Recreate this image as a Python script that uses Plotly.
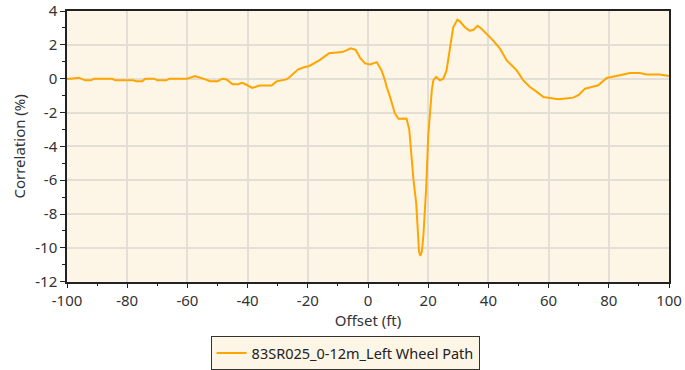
import plotly.graph_objects as go

offset_ft = [-100, -99, -96, -94, -92, -91, -85, -84, -78, -77, -75, -74, -71, -70, -67, -66, -60,
             -57.5, -54.7, -52.5, -50, -48.3, -47, -45, -43, -42, -41, -38.5, -36, -32, -30.4,
             -27.1, -26, -23.2, -21, -19.5, -16.2, -12.9, -8.5, -5.7, -4.1, -2.5, -1.0, 0.7, 2.9,
             4.5, 5.6, 6.2, 7.3, 8.4, 8.9, 10.1, 12.8, 13.7, 14.5, 15.1, 16.0, 16.5, 16.95, 17.4,
             17.9, 18.4, 18.9, 19.3, 19.7, 20.0, 20.6, 21.2, 21.7, 22.6, 23.9, 25.0, 26.1, 27.2,
             28.3, 29.7, 30.5, 32.2, 33.7, 35.0, 36.4, 37.8, 39.4, 41.6, 43.9, 46.1, 48.3, 49.4,
             51.6, 53.8, 56.1, 58.3, 60.5, 63.2, 64.9, 68.2, 69.9, 72.1, 74.3, 76.5, 79.3, 81.5,
             83.7, 87.0, 90.3, 92.5, 96.9, 100]
correlation_pct = [0.0, 0.0, 0.06, -0.1, -0.1, 0.0, 0.0, -0.1, -0.1, -0.15, -0.15, 0.0, 0.0, -0.1,
                   -0.1, 0.0, 0.0, 0.16, 0.0, -0.15, -0.15, 0.0, -0.05, -0.33, -0.33, -0.24, -0.3,
                   -0.55, -0.41, -0.41, -0.16, -0.04, 0.1, 0.55, 0.69, 0.75, 1.08, 1.51, 1.57, 1.8,
                   1.7, 1.2, 0.9, 0.84, 0.98, 0.49, -0.08, -0.49, -1.06, -1.67, -2.04, -2.37, -2.35,
                   -3.0, -4.78, -5.96, -7.33, -8.7, -10.2, -10.47, -10.2, -9.3, -8.1, -6.55, -4.78,
                   -3.4, -2.04, -0.67, -0.1, 0.1, -0.1, 0.0, 0.49, 1.86, 3.04, 3.49, 3.39, 3.04,
                   2.84, 2.88, 3.12, 2.94, 2.65, 2.25, 1.76, 1.08, 0.69, 0.49, -0.1, -0.49, -0.78,
                   -1.08, -1.14, -1.22, -1.18, -1.12, -0.98, -0.59, -0.49, -0.39, 0.04, 0.1, 0.2,
                   0.33, 0.33, 0.25, 0.25, 0.16]
series_name = "83SR025_0-12m_Left Wheel Path"
x_tick_vals = [-100, -80, -60, -40, -20, 0, 20, 40, 60, 80, 100]
x_tick_text = ["-100", "-80", "-60", "-40", "-20", "0", "20", "40", "60", "80", "100"]
y_tick_vals = [-12, -10, -8, -6, -4, -2, 0, 2, 4]
y_tick_text = ["-12", "-10", "-8", "-6", "-4", "-2", "0", "2", "4"]

font_family = "Noto Sans, DejaVu Sans, sans-serif"
text_color = "#333333"
bg_color = "#FDF5E6"
grid_color = "#E3DED6"

W, H = 685, 370
M_L, M_R, M_T, M_B = 67, 16, 11, 0
plot_bottom_px = 284
legend_top_px = 339
paper_h = H - M_T - M_B
y_dom_lo = (H - M_B - plot_bottom_px) / paper_h
legend_y = (H - M_B - legend_top_px) / paper_h

fig = go.Figure()
fig.add_trace(go.Scatter(
    x=offset_ft, y=correlation_pct, mode="lines", name=series_name,
    line=dict(color="#FFA500", width=2), showlegend=True,
))

fig.update_layout(
    width=W, height=H,
    margin=dict(l=M_L, r=M_R, t=M_T, b=M_B),
    paper_bgcolor="white", plot_bgcolor=bg_color,
    font=dict(family=font_family, size=15, color=text_color),
    showlegend=True,
    legend=dict(
        x=0.462, xanchor="center", y=legend_y, yanchor="top",
        bgcolor=bg_color, bordercolor="#333333", borderwidth=1,
        font=dict(size=14.5, color="#222222"),
        tracegroupgap=0,
    ),
    xaxis=dict(
        range=[-100, 100], tickvals=x_tick_vals, ticktext=x_tick_text, ticks="outside", ticklen=5,
        tickcolor="#222222", showline=True, linecolor="#222222", linewidth=1.5, mirror=True,
        showgrid=True, gridcolor=grid_color, gridwidth=1.5, zeroline=False,
        minor=dict(dtick=10, ticks="outside", ticklen=3, tickcolor="#222222", showgrid=False),
        title=dict(text="Offset (ft)", standoff=6, font=dict(size=15)),
        tickfont=dict(size=15), automargin=False, tickangle=0,
    ),
    yaxis=dict(
        domain=[y_dom_lo, 1],
        range=[-12, 4], tickvals=y_tick_vals, ticktext=y_tick_text, ticks="outside", ticklen=5,
        tickcolor="#222222", showline=True, linecolor="#222222", linewidth=1.5, mirror=True,
        showgrid=True, gridcolor=grid_color, gridwidth=1.5, zeroline=False,
        minor=dict(dtick=1, ticks="outside", ticklen=3, tickcolor="#222222", showgrid=False),
        title=dict(text="Correlation (%)", standoff=6, font=dict(size=15)),
        tickfont=dict(size=15), automargin=False,
    ),
)

fig.write_html("out.html")
